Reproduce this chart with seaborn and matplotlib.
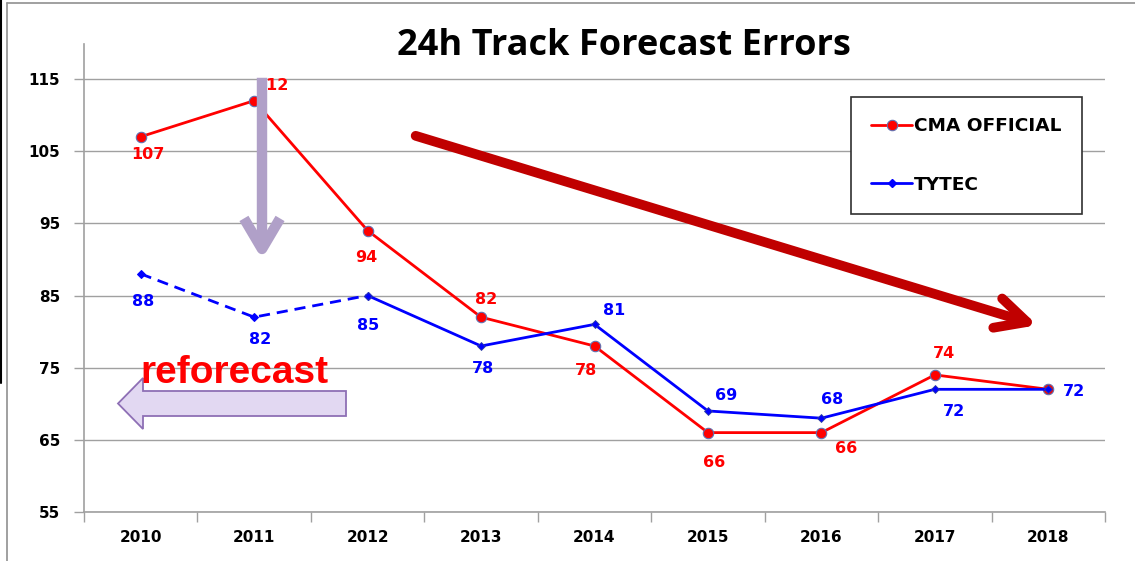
import matplotlib
matplotlib.use("Agg")
import matplotlib.pyplot as plt
from matplotlib import font_manager
from matplotlib.font_manager import FontProperties
from matplotlib.patches import FancyArrowPatch, Polygon
from matplotlib.lines import Line2D
from matplotlib.transforms import offset_copy
import os
import numpy as np
import pandas as pd
import seaborn as sns

# ---- data ----
years = ["2010", "2011", "2012", "2013", "2014", "2015", "2016", "2017", "2018"]
cma_official = [107, 112, 94, 82, 78, 66, 66, 74, 72]
tytec = [88, 82, 85, 78, 81, 69, 68, 72, 72]
y_ticks = [55, 65, 75, 85, 95, 105, 115]

# label offsets in pixels (dx, dy; dy positive = downward)
cma_label_off = [(7, 18), (18, -15), (-1, 27), (5, -18), (-8, 24),
                 (6, 30), (25, 16), (9, -21), None]
tytec_label_off = [(2, 28), (6, 22), (1, 30), (2, 22), (20, -14),
                   (18, -15), (11, -19), (19, 22), (26, 2)]

W, H = 1135, 561
sns.set_theme(style="white")
plt.rcParams["font.family"] = ["DejaVu Sans"]
plt.rcParams["text.color"] = "black"


def bold_font(family, size, avoid=("narrow", "condensed", "semi", "extra")):
    """Pick the regular-width bold face of a family by its file."""
    best = None
    for f in font_manager.fontManager.ttflist:
        base = os.path.basename(f.fname).lower()
        if f.name != family:
            continue
        if any(a in base for a in avoid) or any(a in f.name.lower() for a in avoid):
            continue
        if "italic" in base or "oblique" in base:
            continue
        if "bold" in base:
            best = f.fname
            break
    if best:
        return FontProperties(fname=best, size=size)
    return FontProperties(family=family, weight="bold", size=size)


fig = plt.figure(figsize=(W / 100, H / 100), dpi=100)
fig.patch.set_facecolor("white")


def px(x, y):
    return (x / W, 1 - y / H)


L, R, T, B = 84, 1105, 44, 512
ax = fig.add_axes([L / W, 1 - B / H, (R - L) / W, (B - T) / H])

x_idx = np.arange(len(years))
df = pd.DataFrame({"x": x_idx, "cma": cma_official, "tytec": tytec})

RED = "#FF0000"
BLUE = "#0000FF"

# CMA official line
sns.lineplot(data=df, x="x", y="cma", ax=ax, color=RED, lw=2.0,
             marker="o", markersize=7.5, markeredgecolor="#6070B0",
             markeredgewidth=0.8, legend=False, zorder=4)
# TYTEC: reforecast years dashed, operational years solid
sns.lineplot(data=df.iloc[:3], x="x", y="tytec", ax=ax, color=BLUE, lw=2.0,
             marker="D", markersize=4.5, markeredgecolor=BLUE,
             linestyle=(0, (4, 2.5)), legend=False, zorder=4)
sns.lineplot(data=df.iloc[2:], x="x", y="tytec", ax=ax, color=BLUE, lw=2.0,
             marker="D", markersize=4.5, markeredgecolor="#3040A0",
             markeredgewidth=0.6, legend=False, zorder=5)

ax.set_xlim(-0.5, len(years) - 0.5)
ax.set_ylim(55, 55 + (B - T) / ((B - 79) / 60))
ax.set_yticks(y_ticks)
ax.set_yticklabels([str(v) for v in y_ticks], fontweight="bold", fontsize=11)
ax.set_xticks(x_idx)
ax.set_xticklabels(years, fontweight="bold", fontsize=11)
ax.set_xticks(np.arange(-0.5, len(years)), minor=True)
ax.tick_params(axis="x", which="major", length=0, pad=13, colors="black")
ax.tick_params(axis="x", which="minor", length=7, width=1, color="#A0A0A0",
               direction="out", bottom=True)
ax.tick_params(axis="y", which="major", length=7, width=1, color="#A0A0A0",
               direction="out", left=True, pad=10)
for lbl in ax.get_yticklabels() + ax.get_xticklabels():
    lbl.set_color("black")
ax.set_xlabel("")
ax.set_ylabel("")
ax.yaxis.grid(True, color="#A0A0A0", lw=1)
ax.xaxis.grid(False)
for side in ["top", "right"]:
    ax.spines[side].set_visible(False)
for side in ["left", "bottom"]:
    ax.spines[side].set_color("#A0A0A0")
    ax.spines[side].set_linewidth(1.2)

# value labels
for i, v in enumerate(cma_official):
    off = cma_label_off[i]
    if off is None:
        continue
    tr = offset_copy(ax.transData, fig=fig, x=off[0], y=-off[1], units="dots")
    ax.text(i, v, str(v), transform=tr, color=RED, fontsize=11.5,
            fontweight="bold", ha="center", va="center", zorder=6)
for i, v in enumerate(tytec):
    off = tytec_label_off[i]
    tr = offset_copy(ax.transData, fig=fig, x=off[0], y=-off[1], units="dots")
    ax.text(i, v, str(v), transform=tr, color=BLUE, fontsize=11.5,
            fontweight="bold", ha="center", va="center", zorder=6)

# title
fig.text(*px(624, 55), "24h Track Forecast Errors",
         fontproperties=bold_font("Open Sans", 26), color="black",
         ha="center", va="baseline")

# legend box
leg_handles = [
    Line2D([], [], color=RED, lw=2, marker="o", markersize=7.5,
           markeredgecolor="#6070B0", markeredgewidth=0.8),
    Line2D([], [], color=BLUE, lw=2, marker="D", markersize=4.5,
           markeredgecolor=BLUE),
]
leg = fig.legend(leg_handles, ["CMA OFFICIAL", "TYTEC"], loc="upper left",
                 bbox_to_anchor=px(851, 97), frameon=True, fancybox=False,
                 edgecolor="#303030", framealpha=1, handlelength=2.2,
                 handletextpad=0.1, labelspacing=2.2, borderpad=1.1,
                 borderaxespad=0, prop={"weight": "bold", "size": 13.3})
leg.get_frame().set_linewidth(1.2)
leg.set_zorder(7)
for t in leg.get_texts():
    t.set_color("black")

# vertical lavender arrow
fig.patches.append(FancyArrowPatch(
    px(262, 75), px(262, 262), transform=fig.transFigure,
    arrowstyle="->, head_length=22, head_width=13", mutation_scale=1,
    color="#B0A0C8", lw=7.5, capstyle="butt", joinstyle="round", zorder=8))

# long dark red trend arrow
fig.patches.append(FancyArrowPatch(
    px(413, 135), px(1040, 326), transform=fig.transFigure,
    arrowstyle="->, head_length=22, head_width=11", mutation_scale=1,
    color="#C00000", lw=7, capstyle="round", joinstyle="round", zorder=8))

# reforecast text and block arrow
fig.text(*px(234, 383), "reforecast",
         fontproperties=bold_font("Liberation Sans", 28), color=RED,
         ha="center", va="baseline", zorder=9)
tip_x, body_right = 118, 346
body_top, body_bot = 391, 416
head_top, head_bot, head_base = 378, 429, 143
verts = [px(tip_x, (head_top + head_bot) / 2), px(head_base, head_top),
         px(head_base, body_top), px(body_right, body_top),
         px(body_right, body_bot), px(head_base, body_bot),
         px(head_base, head_bot)]
fig.patches.append(Polygon(verts, closed=True, transform=fig.transFigure,
                           facecolor="#E2D8F2", edgecolor="#8E6FB5", lw=1.3,
                           zorder=8))

# outer frame lines
fig.add_artist(Line2D([7 / W, 1], [1 - 3 / H, 1 - 3 / H],
                      transform=fig.transFigure, color="#909090", lw=1.2))
fig.add_artist(Line2D([7 / W, 7 / W], [0, 1 - 3 / H],
                      transform=fig.transFigure, color="#909090", lw=1.2))
fig.add_artist(Line2D([0.5 / W, 0.5 / W], [1 - 383 / H, 1],
                      transform=fig.transFigure, color="black", lw=1.5))

fig.savefig("out.png", dpi=100, facecolor="white")
